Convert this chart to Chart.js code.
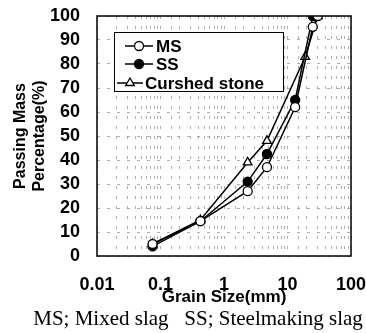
<!DOCTYPE html>
<html>
<head>
<meta charset="utf-8">
<script src="https://cdn.jsdelivr.net/npm/chart.js@4/dist/chart.umd.min.js"></script>
<style>
html,body{margin:0;padding:0;background:#fff;}
#wrap{width:366px;height:333px;}
</style>
</head>
<body>
<div id="wrap"><canvas id="c" width="366" height="333"></canvas></div>
<script>
// Data
const sizesMS = [0.075, 0.425, 2.36, 4.75, 13.2, 25, 30];
const passMS  = [5, 14.5, 27, 37, 62, 95.5, 100];
const sizesSS = [0.075, 0.425, 2.36, 4.75, 13.2, 25];
const passSS  = [4, 14.5, 31, 42.5, 65, 100];
const sizesCS = [0.075, 0.425, 2.36, 4.75, 19, 30];
const passCS  = [5, 15, 39, 48, 83, 100];
const seriesNames = ['MS', 'SS', 'Curshed stone'];
const yTitle = ['Passing Mass', 'Percentage(%)'];
const xTitle = 'Grain Size(mm)';
const footer = 'MS; Mixed slag   SS; Steelmaking slag';

function pts(xs, ys){ return xs.map((x,i)=>({x:x, y:ys[i]})); }

const common = {borderColor:'#000', borderWidth:1.5, pointRadius:4.5, pointHoverRadius:4.5, pointBorderWidth:1.3, pointBorderColor:'#000', tension:0, fill:false};

const legendPlugin = {
  id:'customLegend',
  afterDatasetsDraw(chart){
    const ctx = chart.ctx;
    ctx.save();
    ctx.fillStyle='#fff';
    ctx.fillRect(114,32,169,59);
    ctx.strokeStyle='#000'; ctx.lineWidth=1;
    ctx.strokeRect(114.5,32.5,169,59);
    const rows=[{y:46,x0:125,x1:153,tx:156},{y:64,x0:125,x1:153,tx:156},{y:83,x0:117,x1:143,tx:145}];
    chart.data.datasets.forEach((ds,i)=>{
      const r=rows[i];
      ctx.strokeStyle='#000'; ctx.lineWidth=1.5;
      ctx.beginPath(); ctx.moveTo(r.x0,r.y); ctx.lineTo(r.x1,r.y); ctx.stroke();
      ctx.fillStyle = ds.pointBackgroundColor; ctx.strokeStyle='#000'; ctx.lineWidth=ds.pointBorderWidth;
      Chart.helpers.drawPoint(ctx,{pointStyle:ds.pointStyle,rotation:0,radius:ds.pointRadius,borderWidth:ds.pointBorderWidth},(r.x0+r.x1)/2,r.y);
      ctx.fillStyle='#000';
      ctx.font='bold 17px "Liberation Sans", Arial, sans-serif';
      ctx.textBaseline='middle'; ctx.textAlign='left';
      ctx.fillText(ds.label, r.tx, r.y+1);
    });
    ctx.restore();
  },
  afterDraw(chart){
    const ctx=chart.ctx, a=chart.chartArea;
    ctx.save();
    ctx.strokeStyle='#000'; ctx.lineWidth=1.5;
    ctx.strokeRect(a.left,a.top,a.right-a.left,a.bottom-a.top);
    ctx.fillStyle='#000';
    ctx.font='21px "Liberation Serif", "Times New Roman", serif';
    ctx.textAlign='center'; ctx.textBaseline='middle';
    ctx.fillText(footer, 198, 319);
    ctx.restore();
  }
};

new Chart(document.getElementById('c'), {
  type:'line',
  data:{datasets:[
    Object.assign({label:seriesNames[0], data:pts(sizesMS,passMS), pointStyle:'circle', pointBackgroundColor:'#fff'}, common),
    Object.assign({label:seriesNames[1], data:pts(sizesSS,passSS), pointStyle:'circle', pointBackgroundColor:'#000'}, common),
    Object.assign({label:seriesNames[2], data:pts(sizesCS,passCS), pointStyle:'triangle', pointBackgroundColor:'#fff'}, common, {pointRadius:5, pointHoverRadius:5})
  ]},
  options:{
    responsive:false, animation:false,
    layout:{padding:{top:16,right:15,bottom:0,left:0}},
    plugins:{legend:{display:false}, tooltip:{enabled:false}},
    scales:{
      x:{
        type:'logarithmic', min:0.01, max:100,
        afterFit(s){ s.height = 77; s.paddingLeft = 0; s.paddingRight = 0; },
        grid:{color:'#9a9a9a', lineWidth:0.8, drawTicks:false},
        border:{display:false, dash:[3,7]},
        ticks:{autoSkip:false, maxRotation:0, padding:18, color:'#000',
          font:{family:'"Liberation Sans", Arial, sans-serif', size:18, weight:'bold'},
          callback(v){ const l=Math.log10(v); return Math.abs(l-Math.round(l))<1e-9 ? String(v) : ''; }},
        title:{display:true, text:xTitle, color:'#000', padding:{top:0,bottom:25},
          font:{family:'"Liberation Sans", Arial, sans-serif', size:17, weight:'bold'}}
      },
      y:{
        min:0, max:100,
        afterFit(s){ s.width = 97; s.paddingTop = 0; s.paddingBottom = 0; },
        grid:{color:'#9a9a9a', lineWidth:0.8, drawTicks:false},
        border:{display:false, dash:[3,7]},
        ticks:{stepSize:10, autoSkip:false, padding:17, color:'#000',
          font:{family:'"Liberation Sans", Arial, sans-serif', size:18, weight:'bold'}},
        title:{display:true, text:yTitle, color:'#000', padding:{top:11,bottom:0},
          font:{family:'"Liberation Sans", Arial, sans-serif', size:16, weight:'bold'}}
      }
    }
  },
  plugins:[legendPlugin]
});
</script>
</body>
</html>
